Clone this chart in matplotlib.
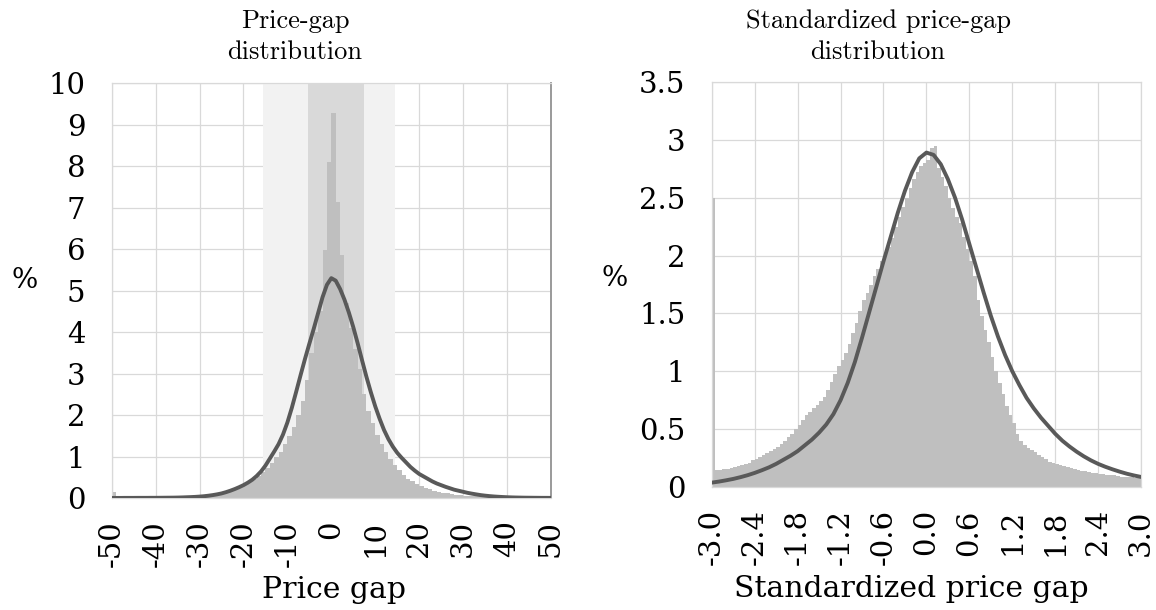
import numpy as np
import matplotlib.pyplot as plt

plt.rcParams['axes.unicode_minus'] = False

# ---- left panel: price gap, 1-unit bins from -50 to 50 ----
gap_bin_left = np.arange(-50, 50)
gap_hist = [
    0.15, 0.005, 0.006, 0.006, 0.007, 0.008, 0.009, 0.01, 0.011, 0.012,      # -50..-41
    0.014, 0.016, 0.018, 0.021, 0.024, 0.028, 0.032, 0.037, 0.043, 0.05,     # -40..-31
    0.058, 0.068, 0.08, 0.095, 0.11, 0.13, 0.155, 0.185, 0.22, 0.27,         # -30..-21
    0.32, 0.38, 0.45, 0.53, 0.62, 0.73, 0.85, 0.98, 1.12, 1.3,               # -20..-11
    1.5, 1.7, 2.0, 2.35, 2.85, 3.5, 4.0, 4.5, 5.97, 8.09,                    # -10..-1
    9.27, 7.14, 5.87, 4.7, 4.1, 3.6, 3.1, 2.5, 2.1, 1.8,                     # 0..9
    1.52, 1.3, 1.1, 0.95, 0.8, 0.67, 0.56, 0.47, 0.4, 0.34,                  # 10..19
    0.29, 0.25, 0.21, 0.18, 0.15, 0.13, 0.11, 0.095, 0.08, 0.07,             # 20..29
    0.06, 0.052, 0.045, 0.039, 0.034, 0.03, 0.026, 0.023, 0.02, 0.018,      # 30..39
    0.016, 0.014, 0.012, 0.011, 0.01, 0.009, 0.008, 0.007, 0.006, 0.006,    # 40..49
]
gap_curve_x = np.arange(-50, 51)
gap_curve = [
    0.002, 0.002, 0.002, 0.003, 0.003, 0.003, 0.004, 0.004, 0.004, 0.005,    # -50..-41
    0.005, 0.006, 0.007, 0.008, 0.009, 0.011, 0.014, 0.018, 0.022, 0.027,    # -40..-31
    0.034, 0.043, 0.055, 0.07, 0.088, 0.11, 0.14, 0.175, 0.215, 0.26,        # -30..-21
    0.31, 0.37, 0.44, 0.53, 0.64, 0.78, 0.95, 1.12, 1.3, 1.53,               # -20..-11
    1.82, 2.17, 2.56, 2.96, 3.35, 3.72, 4.08, 4.46, 4.84, 5.14,              # -10..-1
    5.3,                                                                      # 0
    5.24, 5.04, 4.78, 4.47, 4.12, 3.73, 3.32, 2.92, 2.55, 2.21,              # 1..10
    1.91, 1.64, 1.42, 1.24, 1.09, 0.97, 0.86, 0.75, 0.66, 0.58,              # 11..20
    0.52, 0.46, 0.4, 0.35, 0.31, 0.27, 0.235, 0.2, 0.175, 0.15,              # 21..30
    0.125, 0.105, 0.087, 0.07, 0.057, 0.046, 0.037, 0.03, 0.024, 0.019,      # 31..40
    0.015, 0.012, 0.01, 0.008, 0.007, 0.006, 0.005, 0.004, 0.004, 0.003,    # 41..50
]
band_outer = (-15.5, 14.4)
band_inner = (-5.4, 7.4)
gap_ticks = [-50, -40, -30, -20, -10, 0, 10, 20, 30, 40, 50]
gap_yticks = [0, 1, 2, 3, 4, 5, 6, 7, 8, 9, 10]

# ---- right panel: standardized gap, 0.05 bins from -3 to 3 ----
std_bin_left = np.round(np.arange(-3, 3, 0.05), 2)
std_hist = [
    2.5, 0.15, 0.15, 0.155, 0.16, 0.165, 0.17, 0.18, 0.19, 0.2,              # -3.00..-2.55
    0.21, 0.23, 0.245, 0.26, 0.275, 0.29, 0.31, 0.33, 0.35, 0.37,            # -2.50..-2.05
    0.4, 0.43, 0.46, 0.5, 0.54, 0.58, 0.62, 0.65, 0.68, 0.71,                # -2.00..-1.55
    0.74, 0.78, 0.84, 0.91, 0.98, 1.05, 1.1, 1.16, 1.24, 1.33,               # -1.50..-1.05
    1.42, 1.52, 1.62, 1.68, 1.75, 1.82, 1.88, 1.95, 2.0, 2.07,               # -1.00..-0.55
    2.15, 2.25, 2.33, 2.42, 2.5, 2.58, 2.66, 2.72, 2.77, 2.8,                # -0.50..-0.05
    2.83, 2.93, 2.95, 2.76, 2.68, 2.6, 2.5, 2.41, 2.33, 2.28,                # 0.00..0.45
    2.16, 2.06, 1.95, 1.82, 1.62, 1.48, 1.36, 1.25, 1.12, 1.0,               # 0.50..0.95
    0.9, 0.8, 0.7, 0.62, 0.55, 0.46, 0.4, 0.36, 0.34, 0.32,                  # 1.00..1.45
    0.3, 0.28, 0.26, 0.24, 0.22, 0.21, 0.2, 0.19, 0.18, 0.17,                # 1.50..1.95
    0.165, 0.155, 0.145, 0.14, 0.135, 0.13, 0.125, 0.12, 0.115, 0.11,        # 2.00..2.45
    0.105, 0.1, 0.1, 0.095, 0.09, 0.09, 0.085, 0.085, 0.08, 0.08,            # 2.50..2.95
]
std_curve_x = np.round(np.arange(-3, 3.01, 0.1), 1)
std_curve = [
    0.038, 0.047, 0.058, 0.07, 0.085, 0.102, 0.122, 0.145, 0.17, 0.2,        # -3.0..-2.1
    0.235, 0.27, 0.31, 0.36, 0.41, 0.47, 0.54, 0.63, 0.75, 0.9,              # -2.0..-1.1
    1.08, 1.29, 1.51, 1.73, 1.95, 2.16, 2.37, 2.56, 2.72, 2.84,              # -1.0..-0.1
    2.89,                                                                     # 0.0
    2.87, 2.79, 2.66, 2.5, 2.31, 2.1, 1.89, 1.68, 1.48, 1.3,                 # 0.1..1.0
    1.14, 1.0, 0.88, 0.77, 0.68, 0.6, 0.53, 0.46, 0.4, 0.35,                 # 1.1..2.0
    0.305, 0.265, 0.23, 0.2, 0.175, 0.153, 0.133, 0.115, 0.1, 0.087,         # 2.1..3.0
]
std_ticks = [-3.0, -2.4, -1.8, -1.2, -0.6, 0.0, 0.6, 1.2, 1.8, 2.4, 3.0]
std_yticks = [0, 0.5, 1, 1.5, 2, 2.5, 3, 3.5]

BAR = '#bfbfbf'
LINE = '#595959'
GRID = '#d9d9d9'
SERIF = 'DejaVu Serif'
FS = 21

fig = plt.figure(figsize=(11.56, 6.10), dpi=100)


def style_axis(ax):
    ax.set_axisbelow(True)
    ax.grid(True, color=GRID, linewidth=0.9)
    for s in ax.spines.values():
        s.set_color(GRID)
        s.set_linewidth(0.9)
    ax.tick_params(length=0, labelsize=FS)
    ax.tick_params(axis='y', pad=19)
    ax.tick_params(axis='x', pad=16)
    for lab in ax.get_xticklabels() + ax.get_yticklabels():
        lab.set_fontfamily(SERIF)


# left
ax1 = fig.add_axes([0.0966, 0.1836, 0.380, 0.680])
ax1.axvspan(*band_outer, color='#f2f2f2', zorder=1, lw=0)
ax1.axvspan(*band_inner, color='#d9d9d9', zorder=1, lw=0)
ax1.bar(gap_bin_left, gap_hist, width=1.0, align='edge', color=BAR, lw=0, zorder=2)
ax1.plot(gap_curve_x, gap_curve, color=LINE, lw=2.8, zorder=3,
         solid_capstyle='round', solid_joinstyle='round')
ax1.set_xlim(-50, 50)
ax1.set_ylim(0, 10)
ax1.set_xticks(gap_ticks)
ax1.set_xticklabels([str(t) for t in gap_ticks], rotation=90)
ax1.set_yticks(gap_yticks)
ax1.set_yticklabels([str(t) for t in gap_yticks])
style_axis(ax1)
ax1.spines['right'].set_color('#9a9a9a')
ax1.spines['right'].set_linewidth(1.4)

# right
ax2 = fig.add_axes([0.6157, 0.2016, 0.3714, 0.664])
ax2.bar(std_bin_left, std_hist, width=0.05, align='edge', color=BAR, lw=0, zorder=2)
ax2.plot(std_curve_x, std_curve, color=LINE, lw=2.8, zorder=3,
         solid_capstyle='round', solid_joinstyle='round')
ax2.set_xlim(-3, 3)
ax2.set_ylim(0, 3.5)
ax2.set_xticks(std_ticks)
ax2.set_xticklabels([f'{t:.1f}' for t in std_ticks], rotation=90)
ax2.set_yticks(std_yticks)
ax2.set_yticklabels([f'{t:g}' for t in std_yticks])
style_axis(ax2)

# titles, units and axis labels
TFS = 19
for x, lines in [(295, ['Price-gap', 'distribution']),
                 (878, ['Standardized price-gap', 'distribution'])]:
    fig.text(x / 1156, 1 - 21 / 610, lines[0], ha='center', va='center', fontsize=TFS, family='cmr10')
    fig.text(x / 1156, 1 - 52 / 610, lines[1], ha='center', va='center', fontsize=TFS, family='cmr10')

fig.text(25 / 1156, 1 - 280 / 610, '%', ha='center', va='center', fontsize=20, family=SERIF)
fig.text(615 / 1156, 1 - 278 / 610, '%', ha='center', va='center', fontsize=20, family=SERIF)
fig.text(334 / 1156, 1 - 590 / 610, 'Price gap', ha='center', va='center', fontsize=21.5, family=SERIF)
fig.text(911 / 1156, 1 - 589 / 610, 'Standardized price gap', ha='center', va='center',
         fontsize=21.5, family=SERIF)

fig.savefig('out.png', dpi=100)
